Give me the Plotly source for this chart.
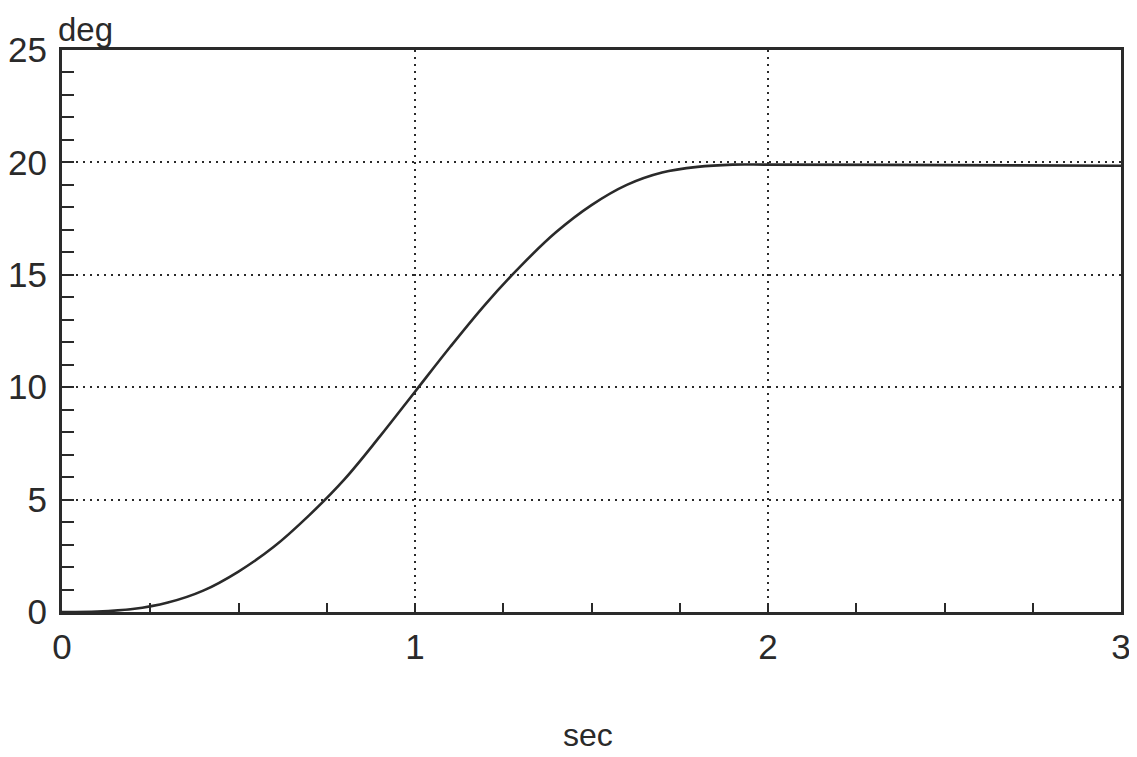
import plotly.graph_objects as go

# Values
time_sec = [0.0, 0.1, 0.2, 0.3, 0.4, 0.5, 0.6, 0.7, 0.8, 0.9, 1.0,
            1.1, 1.2, 1.3, 1.4, 1.5, 1.6, 1.7, 1.8, 1.9, 2.0, 2.5, 3.0]
angle_deg = [0.0, 0.02, 0.13, 0.42, 0.95, 1.8, 2.9, 4.3, 5.9, 7.8, 9.8,
             11.8, 13.7, 15.4, 16.9, 18.1, 19.0, 19.55, 19.8, 19.9, 19.9, 19.88, 19.85]

x_ticks = [0, 1, 2, 3]
x_labels = ["0", "1", "2", "3"]
y_ticks = [0, 5, 10, 15, 20, 25]
y_labels = ["0", "5", "10", "15", "20", "25"]

FONT = "Liberation Sans, Arial, sans-serif"
INK = "#2a2a2a"

fig = go.Figure()
fig.add_trace(go.Scatter(
    x=time_sec, y=angle_deg, mode="lines",
    line=dict(color=INK, width=2.6, shape="spline", smoothing=1.0),
    showlegend=False, hoverinfo="skip",
))

# page has an 8px body margin; figure sized to fit the 1137x757 window
OFF = 8
W, H = 1137 - OFF, 757 - OFF
ml, mr, mt, mb = 62 - OFF, 16, 50 - OFF, 145

fig.update_layout(
    width=W, height=H,
    margin=dict(l=ml, r=mr, t=mt, b=mb, autoexpand=False),
    paper_bgcolor="white", plot_bgcolor="white",
    font=dict(family=FONT, color=INK),
)

GRIDDASH = "2px,5px"

fig.update_xaxes(
    range=[0, 3], tickvals=x_ticks, ticktext=x_labels,
    showline=True, linecolor=INK, linewidth=3, mirror=True,
    showgrid=True, gridcolor=INK, gridwidth=2, griddash=GRIDDASH,
    ticks="inside", ticklen=9, tickwidth=2, tickcolor=INK,
    minor=dict(dtick=0.25, ticks="inside", ticklen=9, tickwidth=2, tickcolor=INK, showgrid=False),
    tickfont=dict(size=35, family=FONT, color=INK),
    ticklabelstandoff=2, automargin=False,
    zeroline=False, fixedrange=True,
)
fig.update_yaxes(
    range=[0, 25], tickvals=y_ticks, ticktext=y_labels,
    showline=True, linecolor=INK, linewidth=3, mirror=True,
    showgrid=True, gridcolor=INK, gridwidth=2, griddash=GRIDDASH,
    ticks="inside", ticklen=12, tickwidth=2, tickcolor=INK,
    minor=dict(dtick=1, ticks="inside", ticklen=12, tickwidth=2, tickcolor=INK, showgrid=False),
    tickfont=dict(size=35, family=FONT, color=INK),
    ticklabelstandoff=5, automargin=False,
    zeroline=False, fixedrange=True,
)

pw = W - ml - mr
ph = H - mt - mb
fig.add_annotation(
    text="deg", xref="paper", yref="paper",
    x=(56 - OFF - ml) / pw, y=(H - mb - 42) / ph,
    xanchor="left", yanchor="bottom", showarrow=False,
    font=dict(size=33, family=FONT, color=INK),
)
fig.add_annotation(
    text="sec", xref="paper", yref="paper",
    x=(588 - OFF - ml) / pw, y=-(735 - OFF - (H - mb)) / ph,
    xanchor="center", yanchor="middle", showarrow=False,
    font=dict(size=32, family=FONT, color=INK),
)

fig.write_html("out.html")
